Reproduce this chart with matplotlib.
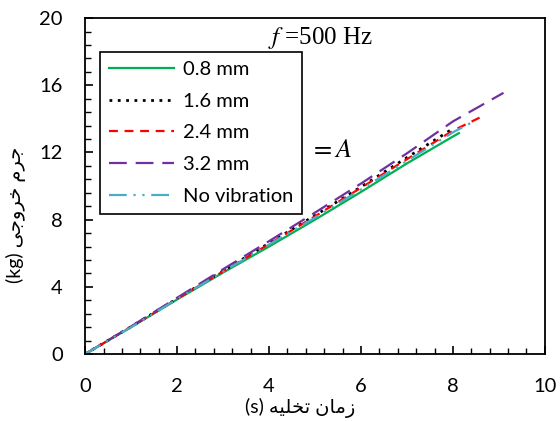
import matplotlib
matplotlib.use('Agg')
import matplotlib.pyplot as plt
from matplotlib.ticker import MultipleLocator

plt.rcParams['font.family'] = ['Lato', 'DejaVu Sans']
plt.rcParams['mathtext.fontset'] = 'stix'

# discharge time (s) vs output mass (kg), f = 500 Hz
t_08 = [0, 1, 2, 3, 4, 5, 6, 7, 8, 8.13]
m_08 = [0, 1.6, 3.25, 4.85, 6.4, 8.0, 9.65, 11.35, 12.95, 13.15]

t_16 = [0, 1, 2, 3, 4, 5, 6, 7, 7.96]
m_16 = [0, 1.63, 3.3, 4.95, 6.6, 8.25, 9.95, 11.7, 13.35]

t_24 = [0, 1, 2, 3, 4, 5, 6, 7, 8, 8.6]
m_24 = [0, 1.62, 3.28, 4.92, 6.55, 8.2, 9.9, 11.6, 13.3, 14.1]

t_32 = [0, 1, 2, 3, 4, 5, 6, 7, 8, 9.1]
m_32 = [0, 1.65, 3.35, 5.05, 6.72, 8.42, 10.15, 11.95, 13.85, 15.55]

t_nv = [0, 1, 2, 3, 4, 5, 6, 7, 8, 8.45]
m_nv = [0, 1.6, 3.27, 4.9, 6.52, 8.12, 9.8, 11.5, 13.2, 13.85]

labels = ['0.8 mm', '1.6 mm', '2.4 mm', '3.2 mm', 'No vibration']

# Persian labels, shaped by hand (presentation forms, visual order)
xlabel = '(s) ' + '\uFEEA\uFEF4\uFEE0\uFEA8\uFE97 \uFEE5\uFE8E\uFEE3\uFEAF'
ylabel = '(kg) ' + '\uFEF0\uFE9F\uFEED\uFEAE\uFEA7 \uFEE1\uFEAE\uFE9F'

fig = plt.figure(figsize=(5.6, 4.21), dpi=100)
ax = fig.add_axes([0.152, 0.159, 0.821, 0.798])

ax.plot(t_08, m_08, color='#00b050', lw=1.6, ls='-', label=labels[0])
ax.plot(t_16, m_16, color='black', lw=2.0, ls=(0, (1, 2)), label=labels[1])
ax.plot(t_24, m_24, color='red', lw=1.6, ls=(0, (4, 3)), label=labels[2])
ax.plot(t_32, m_32, color='#7030a0', lw=1.6, ls=(0, (8, 4)), label=labels[3])
ax.plot(t_nv, m_nv, color='#4bacc6', lw=1.6, ls=(0, (8, 3, 1, 3, 1, 3)), label=labels[4])

ax.set_xlim(0, 10)
ax.set_ylim(0, 20)
ax.xaxis.set_major_locator(MultipleLocator(2))
ax.xaxis.set_minor_locator(MultipleLocator(0.4))
ax.yaxis.set_major_locator(MultipleLocator(4))
ax.yaxis.set_minor_locator(MultipleLocator(0.8))
ax.tick_params(which='major', direction='in', length=6, width=1.2, labelsize=14.5)
ax.tick_params(axis='x', which='major', pad=17)
ax.tick_params(axis='y', which='major', pad=16)
ax.tick_params(which='minor', direction='in', length=4, width=1)
for s in ax.spines.values():
    s.set_linewidth(1.3)

fig.text(300 / 560, 1 - 408 / 421, xlabel, fontsize=14, ha='center', va='center')
fig.text(16 / 560, 1 - 215 / 421, ylabel, fontsize=14, ha='center', va='center', rotation=90)

ax.text(0.513, 0.94, r'$f$ =500 Hz', transform=ax.transAxes, ha='center', va='center',
        fontsize=18, family='Liberation Serif')
ax.text(0.535, 0.61, r'$=A$', transform=ax.transAxes, ha='center', va='center', fontsize=19)

leg = ax.legend(loc='upper left', bbox_to_anchor=(0.033, 0.899), borderaxespad=0,
                fontsize=14.5, handlelength=3.2, handletextpad=0.45, fancybox=False,
                framealpha=1, edgecolor='black', labelspacing=0.72, borderpad=0.45)
leg.get_frame().set_linewidth(1.2)

fig.savefig('out.png', dpi=100)
